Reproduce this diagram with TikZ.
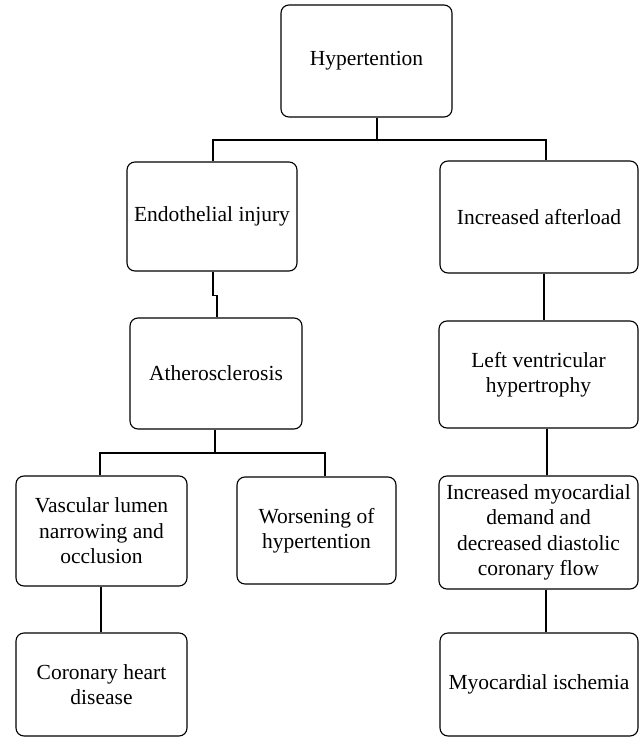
\documentclass[tikz,border=0pt]{standalone}
\usepackage{fontspec}
\setmainfont{Liberation Serif}
\begin{document}
\begin{tikzpicture}[x=1pt,y=-1pt,
  box/.style={draw, rounded corners=8pt, line width=1.1pt, align=center, inner sep=0pt,
    font={\fontsize{21.5}{25.5}\selectfont}},
  link/.style={line width=1.1pt}]
\useasboundingbox (0,0) rectangle (640,738);
\node[box, minimum width=171pt, minimum height=112pt] (hyp) at (366.5,61) {Hypertention};
\node[box, minimum width=170pt, minimum height=109pt] (endo) at (212,216.5) {Endothelial injury};
\node[box, minimum width=198pt, minimum height=112pt] (after) at (539,217) {Increased afterload};
\node[box, minimum width=172pt, minimum height=111pt] (ath) at (216,373.5) {Atherosclerosis};
\node[box, minimum width=199pt, minimum height=107pt] (lvh) at (538.5,374.5) {Left ventricular\\hypertrophy};
\node[box, minimum width=171pt, minimum height=110pt] (vasc) at (101.5,531) {Vascular lumen\\narrowing and\\occlusion};
\node[box, minimum width=159pt, minimum height=107pt] (wors) at (316.5,530.5) {Worsening of\\hypertention};
\node[box, minimum width=199pt, minimum height=113pt] (incr) at (538.5,532.5) {Increased myocardial\\demand and\\decreased diastolic\\coronary flow};
\node[box, minimum width=171pt, minimum height=103pt] (cor) at (101.5,684.5) {Coronary heart\\disease};
\node[box, minimum width=198pt, minimum height=103pt] (isch) at (539,684.5) {Myocardial ischemia};
\coordinate (j1) at (377,140);
\coordinate (j2) at (215,453);
\draw[link] ([xshift=10.5pt]hyp.south) -- (j1);
\draw[link] (j1) -| ([xshift=1pt]endo.north);
\draw[link] (j1) -| ([xshift=7pt]after.north);
\draw[link] ([xshift=1pt]endo.south) -- ++(0,24) -| ([xshift=1pt]ath.north);
\draw[link] ([xshift=-1pt]ath.south) -- (j2);
\draw[link] (j2) -| ([xshift=-1.5pt]vasc.north);
\draw[link] (j2) -| ([xshift=8.5pt]wors.north);
\draw[link] ([xshift=5pt]after.south) -- ([xshift=5.5pt]lvh.north);
\draw[link] ([xshift=8.5pt]lvh.south) -- ([xshift=8.5pt]incr.north);
\draw[link] ([xshift=-0.5pt]vasc.south) -- ([xshift=-0.5pt]cor.north);
\draw[link] ([xshift=7.5pt]incr.south) -- ([xshift=7pt]isch.north);
\end{tikzpicture}
\end{document}
